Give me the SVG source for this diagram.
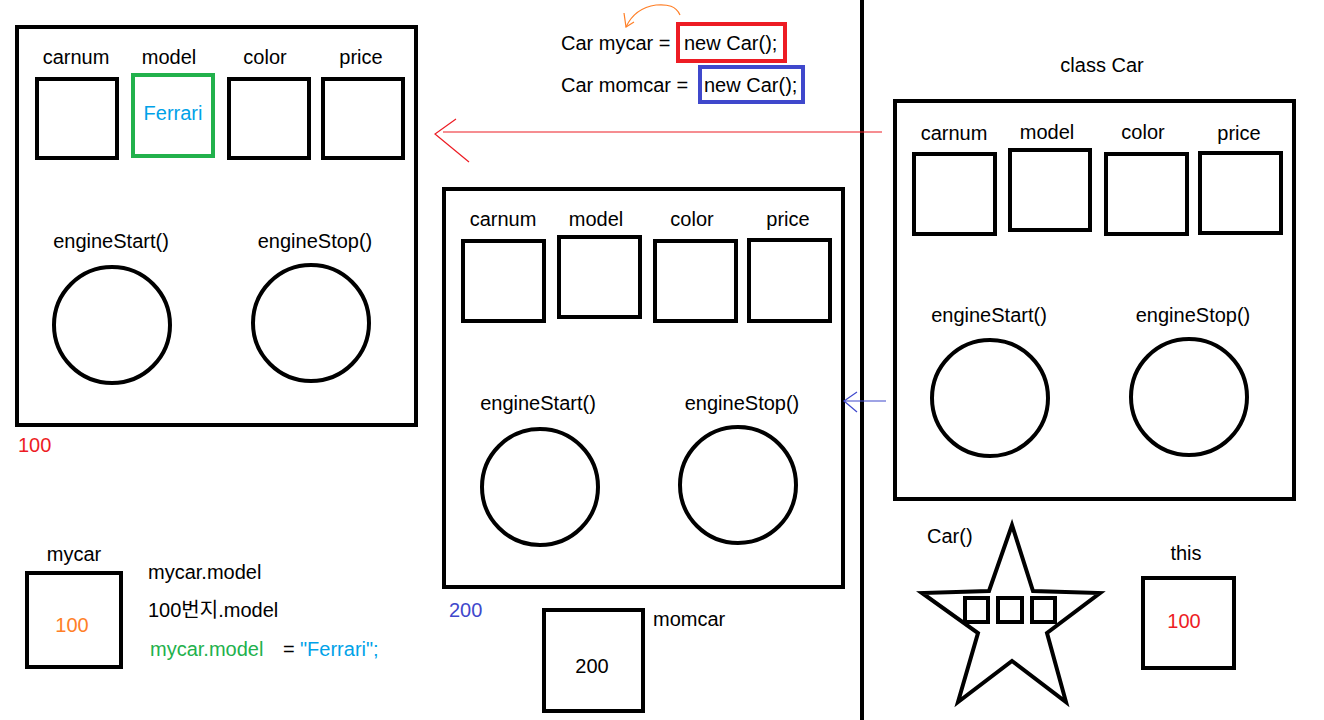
<svg xmlns="http://www.w3.org/2000/svg" width="1324" height="720" viewBox="0 0 1324 720">
<style>
text{font-family:"Liberation Sans","Noto Sans CJK KR",sans-serif;font-size:20px;fill:#000}
.m{text-anchor:middle}
.box{fill:#fff;stroke:#000;stroke-width:4}
.thin{fill:none;stroke:#000;stroke-width:4}
.red{fill:#ed1c24}.blue{fill:#3f48cc}.green{fill:#22b14c}.cyan{fill:#00a2e8}.orange{fill:#ff7f27}
</style>
<rect width="1324" height="720" fill="#fff"/>
<line x1="862" y1="0" x2="862" y2="720" stroke="#000" stroke-width="4"/>

<g id="code">
<path d="M680,15 C676,6 668,4 656,5 C642,7 632,14 626,27" fill="none" stroke="#ff7f27" stroke-width="1.2"/>
<path d="M624,13 L626,27 L634,22" fill="none" stroke="#ff7f27" stroke-width="1.2"/>
<text x="561" y="50">Car mycar =</text>
<rect x="678" y="24" width="107" height="37" fill="none" stroke="#ed1c24" stroke-width="4"/>
<text x="684" y="50">new Car();</text>
<text x="561" y="92">Car momcar =</text>
<rect x="700" y="67" width="103" height="35" fill="none" stroke="#3f48cc" stroke-width="4"/>
<text x="704" y="92">new Car();</text>
</g>

<g id="obj100">
<rect class="box" x="17" y="27" width="399" height="398"/>
<text class="m" x="76" y="64">carnum</text>
<text class="m" x="169" y="64">model</text>
<text class="m" x="265" y="64">color</text>
<text class="m" x="361" y="64">price</text>
<rect class="thin" x="37" y="79" width="80" height="79"/>
<rect x="133" y="75" width="80" height="81" fill="none" stroke="#22b14c" stroke-width="4"/>
<text class="m cyan" x="173" y="120">Ferrari</text>
<rect class="thin" x="229" y="79" width="80" height="79"/>
<rect class="thin" x="323" y="79" width="80" height="79"/>
<text class="m" x="111" y="248">engineStart()</text>
<text class="m" x="315" y="248">engineStop()</text>
<circle class="thin" cx="112" cy="325" r="58"/>
<circle class="thin" cx="311" cy="323" r="58"/>
<text class="red" x="18" y="452">100</text>
</g>

<g id="obj200">
<rect class="box" x="444" y="189" width="399" height="398"/>
<text class="m" x="503" y="226">carnum</text>
<text class="m" x="596" y="226">model</text>
<text class="m" x="692" y="226">color</text>
<text class="m" x="788" y="226">price</text>
<rect class="thin" x="463" y="241" width="81" height="80"/>
<rect class="thin" x="559" y="237" width="81" height="80"/>
<rect class="thin" x="655" y="241" width="81" height="80"/>
<rect class="thin" x="749" y="240" width="81" height="81"/>
<text class="m" x="538" y="410">engineStart()</text>
<text class="m" x="742" y="410">engineStop()</text>
<circle class="thin" cx="540" cy="487" r="58"/>
<circle class="thin" cx="738" cy="485" r="58"/>
<text class="blue" x="449" y="617">200</text>
</g>

<g id="classCar">
<text class="m" x="1102" y="72">class Car</text>
<rect class="box" x="895" y="101" width="399" height="398"/>
<text class="m" x="954" y="140">carnum</text>
<text class="m" x="1047" y="139">model</text>
<text class="m" x="1143" y="139">color</text>
<text class="m" x="1239" y="140">price</text>
<rect class="thin" x="914" y="154" width="81" height="80"/>
<rect class="thin" x="1010" y="150" width="80" height="80"/>
<rect class="thin" x="1106" y="154" width="81" height="80"/>
<rect class="thin" x="1200" y="153" width="81" height="80"/>
<text class="m" x="989" y="322">engineStart()</text>
<text class="m" x="1193" y="322">engineStop()</text>
<circle class="thin" cx="990" cy="398" r="58"/>
<circle class="thin" cx="1189" cy="397" r="58"/>
</g>

<g id="constructor">
<text x="927" y="543">Car()</text>
<path class="thin" d="M1012,525 L1033,591 L1100,593 L1047,633 L1066,702 L1012,661 L958,702 L978,633 L922,593 L989,591 Z" stroke-linejoin="miter"/>
<rect class="thin" x="965" y="598" width="23" height="24"/>
<rect class="thin" x="998" y="598" width="24" height="24"/>
<rect class="thin" x="1032" y="598" width="23" height="24"/>
</g>

<g id="this">
<text class="m" x="1186" y="560">this</text>
<rect class="box" x="1143" y="578" width="91" height="90"/>
<text class="m red" x="1184" y="628">100</text>
</g>

<g id="mycar">
<text class="m" x="74" y="561">mycar</text>
<rect class="box" x="27" y="573" width="94" height="94"/>
<text class="m orange" x="72" y="632">100</text>
</g>

<g id="notes">
<text x="148" y="579">mycar.model</text>
<text x="148" y="617">100번지.model</text>
<text x="150" y="656"><tspan class="green">mycar.model</tspan><tspan x="283">=</tspan><tspan class="cyan" x="300">"Ferrari";</tspan></text>
</g>

<g id="momcar">
<rect class="box" x="544" y="610" width="99" height="101"/>
<text class="m" x="592" y="673">200</text>
<text x="653" y="626">momcar</text>
</g>

<g id="connectors">
<line x1="443" y1="132" x2="882" y2="132" stroke="#ed1c24" stroke-width="1.2"/>
<path d="M456,119 L435,134 L469,162" fill="none" stroke="#ed1c24" stroke-width="1.2"/>
<line x1="844" y1="401" x2="886" y2="401" stroke="#3f48cc" stroke-width="1.2"/>
<path d="M857,392 L844,401 L857,412" fill="none" stroke="#3f48cc" stroke-width="1.2"/>
</g>
</svg>
